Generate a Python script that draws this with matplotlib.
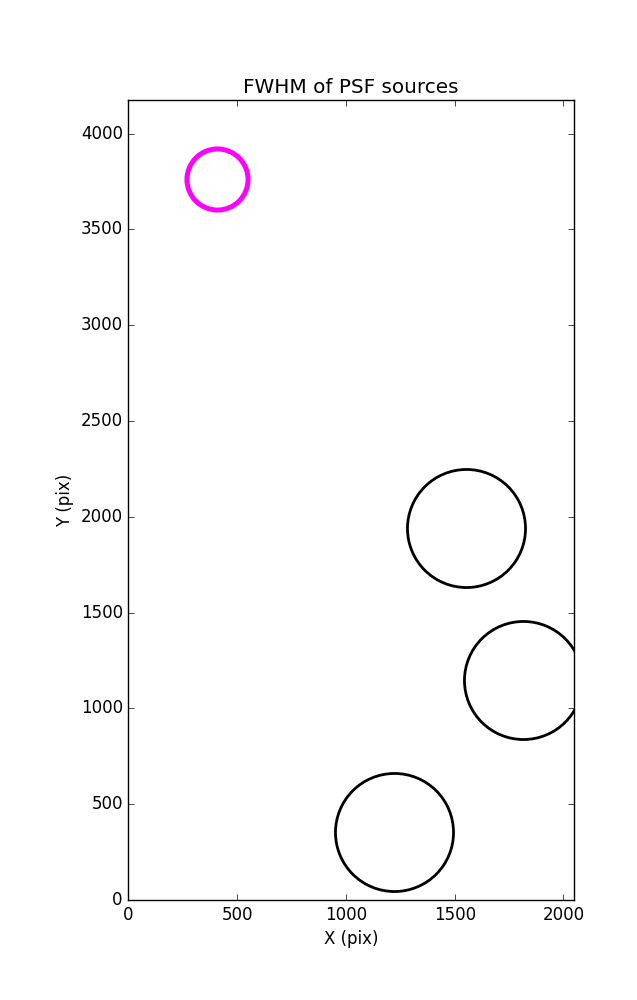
import matplotlib
matplotlib.use('Agg')
import matplotlib.pyplot as plt

# PSF source positions (pixels)
x_black = [1220, 1554, 1816]
y_black = [354, 1942, 1149]
x_magenta = [408]
y_magenta = [3762]

plt.style.use('classic')

fig = plt.figure(figsize=(6.37, 10), dpi=100, facecolor='white')
ax = fig.add_subplot(111)
fig.subplots_adjust(left=0.2015, right=0.901, bottom=0.1, top=0.9)

ax.plot(x_black, y_black, linestyle='none', marker='o', markersize=85,
        markerfacecolor='none', markeredgecolor='black', markeredgewidth=2)
ax.plot(x_magenta, y_magenta, linestyle='none', marker='o', markersize=44,
        markerfacecolor='none', markeredgecolor='magenta', markeredgewidth=3.6)

ax.set_xlim(0, 2048)
ax.set_ylim(0, 4175)
ax.set_xticks([0, 500, 1000, 1500, 2000])
ax.set_yticks(range(0, 4001, 500))
ax.set_xlabel('X (pix)')
ax.set_ylabel('Y (pix)')
ax.set_title('FWHM of PSF sources')

plt.savefig('out.png', dpi=100, facecolor='white')
